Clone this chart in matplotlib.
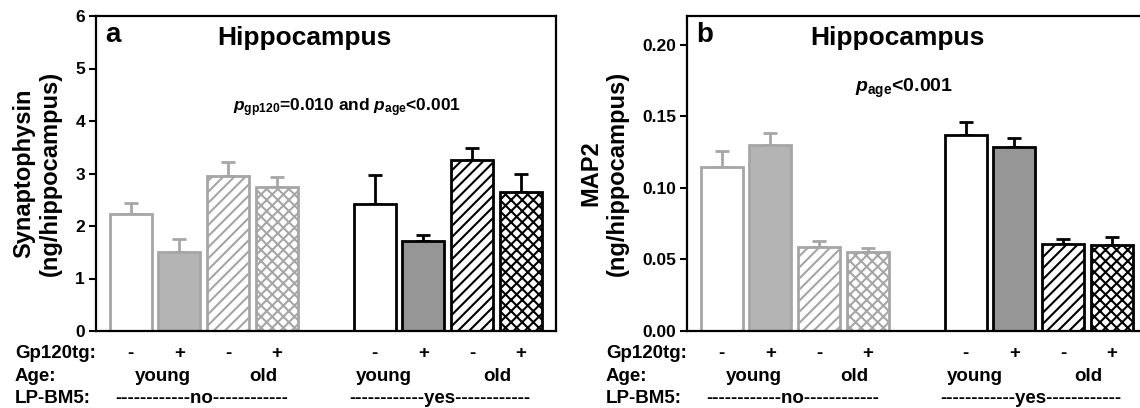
import numpy as np
import matplotlib
matplotlib.use("Agg")
import matplotlib.pyplot as plt
from matplotlib.transforms import blended_transform_factory

plt.rcParams["font.family"] = ["Liberation Sans", "DejaVu Sans"]
plt.rcParams["font.weight"] = "bold"
plt.rcParams["mathtext.fontset"] = "custom"
plt.rcParams["mathtext.rm"] = "Liberation Sans:bold"
plt.rcParams["mathtext.it"] = "Liberation Sans:italic:bold"
plt.rcParams["mathtext.bf"] = "Liberation Sans:bold"
plt.rcParams["hatch.linewidth"] = 1.5

# bar positions: 4 groups without LP-BM5, gap, 4 groups with LP-BM5
positions = [0, 1, 2, 3, 5, 6, 7, 8]
gp120_signs = ["-", "+", "-", "+", "-", "+", "-", "+"]

syn_mean = [2.23, 1.51, 2.95, 2.75, 2.42, 1.72, 3.25, 2.64]
syn_err = [0.21, 0.25, 0.27, 0.19, 0.55, 0.11, 0.24, 0.36]

map2_mean = [0.1145, 0.1298, 0.0585, 0.0555, 0.1370, 0.1287, 0.0606, 0.0599]
map2_err = [0.0109, 0.0087, 0.0047, 0.0025, 0.0087, 0.0063, 0.0035, 0.0056]

LIGHT = "#a6a6a6"
faces = ["white", "#b4b4b4", "white", "white", "white", "#969696", "white", "white"]
edges = [LIGHT] * 4 + ["black"] * 4
hatches = [None, None, "///", "xxx", None, None, "///", "xxx"]

W, H = 1140, 408
fig = plt.figure(figsize=(W / 100, H / 100), dpi=100)


def px_axes(left, top, right, bottom):
    return fig.add_axes([left / W, 1 - bottom / H, (right - left) / W, (bottom - top) / H])


def draw_panel(ax, means, errs, ylim, yticks, ticklabels, ylabel, letter,
               title_x, ptext, ptext_x, ptext_y, ptext_size, label_x):
    for x, m, e, fc, ec, h in zip(positions, means, errs, faces, edges, hatches):
        ax.errorbar(x, m, yerr=[[0], [e]], fmt="none", ecolor=ec, elinewidth=2,
                    capsize=5, capthick=2, zorder=1)
        ax.bar(x, m, width=0.86, facecolor=fc, edgecolor=ec, hatch=h,
               linewidth=2, zorder=2)
    ax.set_xlim(-0.71, 8.72)
    ax.set_ylim(*ylim)
    ax.set_yticks(yticks)
    ax.set_yticklabels(ticklabels, fontsize=12.5, fontweight="bold")
    ax.set_xticks([])
    ax.tick_params(axis="y", direction="out", length=5, width=1.5, pad=3)
    for s in ax.spines.values():
        s.set_linewidth(1.6)
    ax.set_ylabel(ylabel, fontsize=17, fontweight="bold")
    ax.yaxis.set_label_coords(label_x, 0.5)

    tr = blended_transform_factory(ax.transData, ax.transAxes)
    ax.text(0.02, 0.94, letter, transform=ax.transAxes, fontsize=20,
            fontweight="bold", va="center", ha="left")
    ax.text(title_x, 0.93, "Hippocampus", transform=tr,
            fontsize=19, fontweight="bold", ha="center", va="center")
    ax.text(ptext_x, ptext_y, ptext, transform=tr,
            fontsize=ptext_size, fontweight="bold", ha="center", va="center")

    rows = [-0.07, -0.144, -0.214]
    ax.text(-2.37, rows[0], "Gp120tg:", transform=tr, fontsize=13.5, ha="left", va="center")
    ax.text(-2.37, rows[1], "Age:", transform=tr, fontsize=13.5, ha="left", va="center")
    ax.text(-2.37, rows[2], "LP-BM5:", transform=tr, fontsize=13.5, ha="left", va="center")
    for x, s in zip(positions, gp120_signs):
        ax.text(x, rows[0], s, transform=tr, fontsize=13.5, ha="center", va="center")
    for x, s in zip([0.66, 2.72, 5.2, 7.52], ["young", "old", "young", "old"]):
        ax.text(x, rows[1], s, transform=tr, fontsize=13.5, ha="center", va="center")
    dash = "-" * 12
    ax.text(1.45, rows[2], dash + "no" + dash, transform=tr, fontsize=13.5, ha="center", va="center")
    ax.text(6.34, rows[2], dash + "yes" + dash, transform=tr, fontsize=13.5, ha="center", va="center")


ax_a = px_axes(96, 16, 556, 331)
draw_panel(ax_a, syn_mean, syn_err, (0, 6), range(0, 7), [str(v) for v in range(0, 7)],
           "Synaptophysin\n(ng/hippocampus)", "a", 3.57,
           r"$\mathit{p}_{\mathrm{gp120}}$=0.010 and $\mathit{p}_{\mathrm{age}}$<0.001",
           4.43, 0.71, 12.5, -0.074)

ax_b = px_axes(687, 16, 1147, 331)
b_ticks = [0.0, 0.05, 0.10, 0.15, 0.20]
draw_panel(ax_b, map2_mean, map2_err, (0, 0.22), b_ticks, ["%.2f" % t for t in b_ticks],
           "MAP2\n(ng/hippocampus)", "b", 3.61,
           r"$\mathit{p}_{\mathrm{age}}$<0.001",
           3.73, 0.77, 14, -0.126)

fig.savefig("out.png", dpi=100)
